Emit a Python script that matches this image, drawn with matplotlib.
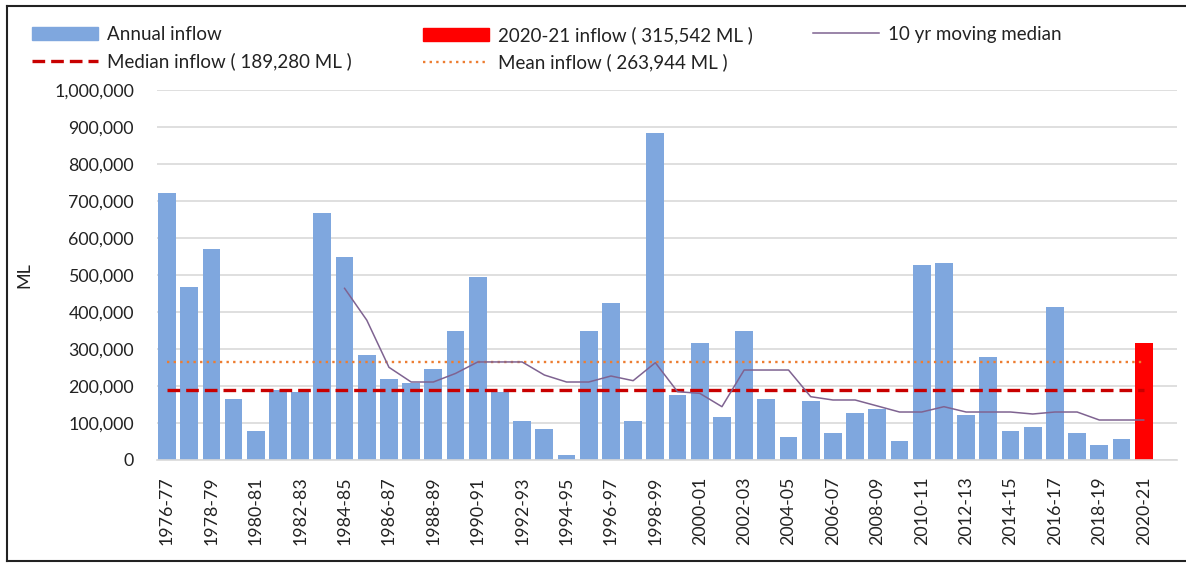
import numpy as np
import matplotlib
matplotlib.use('Agg')
import matplotlib.pyplot as plt
from matplotlib.lines import Line2D
from matplotlib.patches import Patch
from matplotlib.ticker import FuncFormatter

plt.rcParams['font.family'] = ['Lato', 'DejaVu Sans']

# ---- data ----
seasons = ['1976-77', '1977-78', '1978-79', '1979-80', '1980-81', '1981-82', '1982-83',
           '1983-84', '1984-85', '1985-86', '1986-87', '1987-88', '1988-89', '1989-90',
           '1990-91', '1991-92', '1992-93', '1993-94', '1994-95', '1995-96', '1996-97',
           '1997-98', '1998-99', '1999-00', '2000-01', '2001-02', '2002-03', '2003-04',
           '2004-05', '2005-06', '2006-07', '2007-08', '2008-09', '2009-10', '2010-11',
           '2011-12', '2012-13', '2013-14', '2014-15', '2015-16', '2016-17', '2017-18',
           '2018-19', '2019-20', '2020-21']
inflow = [721000, 467000, 569000, 164000, 77500, 189000, 185000, 667000, 548000, 283000,
          218000, 207000, 245000, 348000, 494000, 185000, 104500, 83000, 12600, 348000,
          423000, 104500, 885000, 175000, 315000, 115000, 348000, 164000, 61000, 159000,
          72000, 126000, 137000, 50500, 526000, 531500, 120700, 277500, 77500, 88300,
          412600, 72000, 39600, 55900, 315542]
moving_median = [None] * 8 + [
    464000, 378000, 250500, 210800, 210800, 234000, 265000, 265000, 265000, 229700,
    210800, 210800, 227000, 214400, 263000, 184600, 180200, 144100, 243200, 243200,
    243200, 171100, 162200, 162200, 146000, 129700, 129700, 144100, 129700, 129700,
    129700, 124300, 129700, 129700, 108100, 108100, 108100]
median_inflow = 189280
mean_inflow = 263944
current = 315542

BLUE = '#7FA7DE'
RED = '#FF0000'
DRED = '#C80000'
ORANGE = '#ED7D31'
PURPLE = '#7F6391'
TXT = '#222222'

x = np.arange(len(seasons))
mm = np.array([np.nan if v is None else v for v in moving_median], dtype=float)

fig = plt.figure(figsize=(11.86, 5.63), dpi=100)
ax = fig.add_axes([157 / 1186, 103 / 563, (1177 - 157) / 1186, 370 / 563])

colors = [BLUE] * (len(x) - 1) + [RED]
ax.bar(x, inflow, width=0.8, color=colors, zorder=2)
ax.plot([x[0], x[-1]], [mean_inflow] * 2, color=ORANGE, lw=1.7, ls=(0, (1, 1.8)), zorder=3)
ax.plot([x[0], x[-1]], [median_inflow] * 2, color=DRED, lw=2.4, ls=(0, (3.8, 1.8)), zorder=3)
ax.plot(x, mm, color=PURPLE, lw=1.1, zorder=4)

ax.set_xlim(-0.45, 45.5)
ax.set_ylim(0, 1000000)
ax.set_yticks(np.arange(0, 1000001, 100000))
ax.yaxis.set_major_formatter(FuncFormatter(lambda v, p: f'{int(v):,}'))
ax.set_xticks(x[::2])
ax.set_xticklabels(seasons[::2], rotation=90)
ax.tick_params(axis='both', length=0, labelsize=12.8, colors=TXT)
ax.tick_params(axis='y', pad=16.5)
ax.tick_params(axis='x', pad=12)
ax.grid(axis='y', color='#D9D9D9', lw=1.2, zorder=0)
for s in ('top', 'right', 'left'):
    ax.spines[s].set_visible(False)
ax.spines['bottom'].set_color('#D9D9D9')
ax.spines['bottom'].set_linewidth(1.2)
ax.set_ylabel('ML', fontsize=13, color=TXT, labelpad=0)
ax.yaxis.set_label_coords(-125 / 1020, 0.5)

# ---- legend: three columns placed like the original ----
h_annual = Patch(color=BLUE)
h_now = Patch(color=RED)
h_mm = Line2D([], [], color=PURPLE, lw=1.1)
h_med = Line2D([], [], color=DRED, lw=2.4, ls=(0, (3.8, 1.8)))
h_mean = Line2D([], [], color=ORANGE, lw=1.7, ls=(0, (1, 1.8)))
kw = dict(frameon=False, fontsize=13.5, handlelength=3.5, handleheight=0.7,
          handletextpad=0.5, labelspacing=0.5, borderpad=0, borderaxespad=0,
          loc='upper left', labelcolor=TXT)
top = 1 - 26 / 563
fig.legend([h_annual, h_med], ['Annual inflow', f'Median inflow ( {median_inflow:,} ML )'],
           bbox_to_anchor=(32 / 1186, top), **kw)
fig.legend([h_now, h_mean], [f'2020-21 inflow ( {current:,} ML )', f'Mean inflow ( {mean_inflow:,} ML )'],
           bbox_to_anchor=(423 / 1186, top), **kw)
fig.legend([h_mm], ['10 yr moving median'],
           bbox_to_anchor=(813 / 1186, top), **kw)

# frame around the picture
for xs, ys in (([7, 7], [6, 561]), ([7, 1186], [6, 6]), ([7, 1186], [561, 561])):
    fig.add_artist(Line2D([v / 1186 for v in xs], [1 - v / 563 for v in ys],
                          color=TXT, lw=1.5))

fig.savefig('out.png', dpi=100)
